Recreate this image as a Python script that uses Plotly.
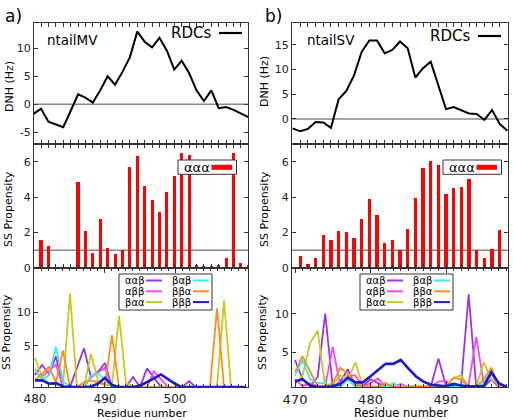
import plotly.graph_objects as go

# ---------------- data : panel a) ntailMV ----------------
res_rdc_a = list(range(480, 510))
rdc_a = [-1.7, -0.8, -3.1, -3.6, -4.1, -1.2, 1.8, 1.2, 0.3, 2.5, 5.0, 3.5, 5.8, 8.4, 13.0,
         11.2, 10.2, 11.9, 9.6, 6.2, 7.8, 5.6, 2.5, 0.6, 2.5, -0.7, -0.5, -1.0, -1.6, -2.3]
res_ss_a = list(range(481, 510))
aaa_a = [1.57, 1.27, 0, 0, 0, 4.83, 2.08, 0.83, 2.77, 1.14, 0.78, 1.0, 5.68, 6.3, 4.64,
         3.84, 3.14, 4.3, 5.2, 6.5, 6.4, 0.19, 0.12, 0.12, 0.17, 0.55, 6.5, 0.27, 0.18]
res_tri_a = list(range(480, 511))
aab_a = [0.6, 2.1, 0.8, 3.4, -1.2, -1.2, 1.7, 4.6, 0.3, 1.1, 2.4, -1.2, -1.2, -1.2, 0.3, -1.2,
         1.6, 0.2, -1.2, -1.2, -1.2, -1.2, -0.3, -1.2, -1.2, -1.2, -1.2, -1.2, -1.2, -1.2, -1.2]
abb_a = [1.0, 0.4, 1.2, 2.2, -1.2, -1.2, -1.2, -1.2, 0.3, 1.0, 1.7, -1.2, -1.2, -1.2, -1.2, -1.2,
         -1.2, 1.2, 0.0, -1.2, -1.2, -1.2, -1.2, -1.2, -1.2, -1.2, -1.2, -1.2, -1.2, -1.2, -1.2]
baa_a = [3.2, 0.3, -0.6, -0.8, -1.0, 12.8, -1.2, -1.2, 3.8, -0.2, -0.8, -1.0, 9.5, -0.6, -1.0, -1.2,
         -1.2, -1.2, -1.2, -1.2, -1.2, -1.2, -1.2, -1.2, -1.2, -1.2, -1.2, 11.8, -1.2, -1.2, -1.2]
bab_a = [1.5, 0.0, 0.5, 4.8, -0.3, -1.2, -1.2, -1.2, 0.5, 0.8, 0.0, -1.2, -1.2, -1.2, -1.2, -1.2,
         -1.2, -1.2, -1.2, -1.2, -1.2, -1.2, -1.2, -1.2, -1.2, -1.2, -1.2, -1.2, -1.2, -1.2, -1.2]
bba_a = [-0.2, 0.8, 1.8, -0.5, 4.3, -1.2, -1.2, -0.5, -0.2, -0.5, -0.9, 6.6, -1.2, -1.2, -1.2, -1.2,
         -1.2, -1.2, -1.2, -1.2, -1.2, -1.2, -1.2, -1.2, -1.2, -1.2, 10.6, -1.2, -1.2, -1.2, -1.2]
bbb_a = [-0.2, -0.2, -0.7, -0.6, -1.1, -1.2, -1.2, -1.2, -1.1, -0.7, 0.2, -0.9, -1.2, -1.2, -1.2, -1.0,
         -0.5, 0.1, 0.7, 0.0, -0.7, -1.2, -1.2, -1.2, -1.2, -1.2, -1.2, -1.2, -1.2, -1.2, -1.2]

# ---------------- data : panel b) ntailSV ----------------
res_rdc_b = list(range(470, 499))
rdc_b = [-1.9, -2.5, -2.0, -0.6, -0.7, -1.8, 4.0, 5.7, 8.8, 13.6, 15.9, 15.9, 13.3, 14.0, 15.7,
         14.3, 8.4, 10.3, 11.6, 6.6, 2.0, 2.4, 1.8, 1.1, 1.0, -0.2, 1.8, -1.0, -2.4]
res_ss_b = list(range(471, 498))
aaa_b = [0.66, 0.2, 0.57, 1.85, 1.6, 2.1, 2.05, 1.7, 2.77, 3.9, 3.0, 1.43, 1.6, 1.0, 2.23,
         3.96, 5.62, 6.06, 5.81, 4.19, 4.53, 4.58, 5.04, 1.0, 0.57, 1.08, 2.17]
res_tri_b = list(range(470, 499))
aab_b = [4.0, 1.5, 0.6, 1.8, 10.0, 0.5, 1.2, 2.8, 0.6, 0.6, 1.5, 1.0, 0.5, 0.5, 0.5,
         0.5, 0.5, 0.5, 0.6, 4.2, 0.6, 0.5, 0.8, 12.5, 0.6, 0.5, 1.5, 0.5, 0.47]
abb_b = [1.5, 0.6, 1.0, 0.6, 0.6, 5.7, 0.6, 2.0, 2.0, 0.5, 1.0, 1.6, 0.5, 0.5, 0.9,
         0.5, 0.5, 0.5, 0.5, 1.2, 1.3, 0.5, 0.5, 0.8, 7.0, 1.0, 2.3, 0.5, 0.47]
baa_b = [0.8, 2.0, 6.2, 7.8, 0.5, 0.8, 2.0, 1.5, 3.7, 0.5, 0.5, 0.5, 0.5, 0.5, 0.5,
         0.6, 0.7, 0.6, 0.5, 0.5, 0.6, 1.7, 2.0, 0.5, 0.5, 3.7, 1.5, 0.8, 0.47]
bab_b = [2.0, 4.0, 1.5, 1.0, 1.0, 0.5, 0.5, 1.5, 0.5, 0.5, 0.5, 0.5, 0.5, 1.0, 0.5,
         0.5, 0.5, 0.5, 0.5, 0.5, 0.5, 0.47, 0.5, 0.5, 0.5, 1.0, 2.6, 0.5, 0.47]
bba_b = [2.5, 4.5, 2.5, 0.6, 0.6, 1.0, 3.0, 2.2, 1.0, 0.5, 0.6, 0.5, 1.0, 0.5, 0.5,
         0.5, 0.5, 0.5, 0.5, 0.5, 0.5, 1.7, 1.5, 0.5, 0.5, 1.5, 3.0, 0.6, 0.47]
bbb_b = [1.2, 1.5, 0.7, 0.5, 0.5, 0.6, 0.9, 1.7, 1.1, 1.1, 1.9, 2.7, 3.5, 3.5, 4.0,
         2.9, 1.9, 1.2, 0.8, 0.7, 0.6, 0.9, 0.7, 0.6, 0.6, 0.6, 2.4, 1.0, 0.5]

# ---------------- labels / ticks ----------------
panel_labels = ["a)", "b)"]
protein_labels = ["ntailMV", "ntailSV"]
rdc_name = "RDCs"
aaa_name = "ααα"
tri_names = ["ααβ", "αββ", "βαα", "βαβ", "ββα", "βββ"]
tri_colors = ["#9933ee", "#ff44ee", "#c8c81e", "#33eeee", "#ff8c1a", "#1a1acc"]
tri_widths = [1.8, 1.8, 1.8, 1.8, 1.8, 2.6]
ticks_rdc_a = [-5, 0, 5, 10]
ticks_rdc_b = [0, 5, 10, 15]
ticks_ss_mid = [0, 2, 4, 6]
ticks_ss_bot = [5, 10]
ticks_res_a = [480, 490, 500]
ticks_res_b = [470, 480, 490]
rdc_ref = 0
ss_ref = 1

# ---------------- geometry ----------------
W, H = 513, 420
FONT = "DejaVu Sans"
AX = "#333333"


def px(x):
    return x / W


def py(y):
    return 1 - y / H


def label(text, x, y, size, xanchor="center", angle=0):
    return dict(text=text, x=px(x), y=py(y), xref="paper", yref="paper", xanchor=xanchor,
                yanchor="middle", textangle=angle, showarrow=False,
                font=dict(family=FONT, size=size, color="black"))


def tickset(vals):
    return dict(tickmode="array", tickvals=vals, ticktext=[str(v) for v in vals], showticklabels=True)


cols = [(34, 248.3), (292, 508.3)]
rows = [(22.7, 144), (144, 268), (268, 387.3)]

fig = go.Figure()

tri_a = [aab_a, abb_a, baa_a, bab_a, bba_a, bbb_a]
tri_b = [aab_b, abb_b, baa_b, bab_b, bba_b, bbb_b]

panels = [
    dict(res_rdc=res_rdc_a, rdc=rdc_a, res_ss=res_ss_a, aaa=aaa_a, res_tri=res_tri_a, tri=tri_a,
         xr_top=[480.05, 509.0], xr_bot=[479.86, 510.47], yr_top=[-7.1, 14.6], yr_bot=[-1.23, 16.63],
         ticks_rdc=ticks_rdc_a, ticks_res=ticks_res_a, xfont=12),
    dict(res_rdc=res_rdc_b, rdc=rdc_b, res_ss=res_ss_b, aaa=aaa_b, res_tri=res_tri_b, tri=tri_b,
         xr_top=[469.92, 498.12], xr_bot=[469.6, 498.25], yr_top=[-5.07, 19.5], yr_bot=[0.46, 15.92],
         ticks_rdc=ticks_rdc_b, ticks_res=ticks_res_b, xfont=13),
]

layout = dict(width=W, height=H, margin=dict(l=0, r=0, t=0, b=0), paper_bgcolor="white",
              plot_bgcolor="white", showlegend=False, font=dict(family=FONT, color="black"))
shapes = []
annotations = []

base_ax = dict(showline=True, linecolor=AX, linewidth=1.2, mirror="ticks", ticks="inside",
               tickcolor=AX, ticklen=4, showgrid=False, zeroline=False, automargin=False,
               tickfont=dict(family=FONT, size=11, color="#222222"))

for p, pan in enumerate(panels):
    x0, x1 = cols[p]
    n = 3 * p
    xa = [f"x{n + k + 1}" if n + k > 0 else "x" for k in range(3)]
    ya = [f"y{n + k + 1}" if n + k > 0 else "y" for k in range(3)]
    xk = ["xaxis" + (str(n + k + 1) if n + k > 0 else "") for k in range(3)]
    yk = ["yaxis" + (str(n + k + 1) if n + k > 0 else "") for k in range(3)]

    # top: RDC line
    fig.add_trace(go.Scatter(x=pan["res_rdc"], y=pan["rdc"], mode="lines", name=rdc_name,
                             line=dict(color="black", width=2), xaxis=xa[0], yaxis=ya[0]))
    # middle: aaa bars
    fig.add_trace(go.Bar(x=pan["res_ss"], y=pan["aaa"], name=aaa_name, width=0.42,
                         marker=dict(color="#ff0000", line=dict(width=0)), xaxis=xa[1], yaxis=ya[1]))
    # bottom: triplet propensities
    for name, col, lw, ys in zip(tri_names, tri_colors, tri_widths, pan["tri"]):
        fig.add_trace(go.Scatter(x=pan["res_tri"], y=ys, mode="lines", name=name,
                                 line=dict(color=col, width=lw), xaxis=xa[2], yaxis=ya[2]))

    dom_x = [px(x0), px(x1)]
    every = list(range(int(pan["xr_top"][0]) - 1, int(pan["xr_top"][1]) + 2))
    for k in range(2):
        layout[xk[k]] = dict(base_ax, domain=dom_x, range=pan["xr_top"], anchor=ya[k],
                             tickmode="array", tickvals=every, showticklabels=False)
    layout[yk[0]] = dict(base_ax, domain=[py(rows[0][1]), py(rows[0][0])], range=pan["yr_top"],
                         anchor=xa[0], **tickset(pan["ticks_rdc"]))
    layout[yk[1]] = dict(base_ax, domain=[py(rows[1][1]), py(rows[1][0])], range=[0, 7],
                         anchor=xa[1], **tickset(ticks_ss_mid))
    xb = dict(base_ax, domain=dom_x, range=pan["xr_bot"], anchor=ya[2], ticklen=5,
              **tickset(pan["ticks_res"]))
    xb["tickfont"] = dict(family=FONT, size=pan["xfont"], color="#222222")
    xb["minor"] = dict(dtick=1, tick0=pan["ticks_res"][0], ticks="inside", ticklen=3, tickcolor=AX)
    layout[xk[2]] = xb
    layout[yk[2]] = dict(base_ax, domain=[py(rows[2][1]), py(rows[2][0])], range=pan["yr_bot"],
                         anchor=xa[2], **tickset(ticks_ss_bot))

    # reference lines
    shapes.append(dict(type="line", xref=f"{xa[0]} domain", x0=0, x1=1, yref=ya[0], y0=rdc_ref, y1=rdc_ref,
                       line=dict(color="#888888", width=1.4), layer="below"))
    shapes.append(dict(type="line", xref=f"{xa[1]} domain", x0=0, x1=1, yref=ya[1], y0=ss_ref, y1=ss_ref,
                       line=dict(color="#888888", width=1.4), layer="below"))

    off = 0 if p == 0 else 260
    annotations.append(label(panel_labels[p], 3 + off, 16, 17, "left"))
    annotations.append(label(protein_labels[p], 45 + off, 40, 13.5, "left"))
    yt_x = 9 if p == 0 else 265
    annotations.append(label("DNH (Hz)", yt_x, 87 if p == 0 else 82, 11, angle=-90))
    annotations.append(label("SS Propensity", yt_x - 1, 209, 11, angle=-90))
    annotations.append(label("SS Propensity", yt_x - 3, 332, 11, angle=-90))
    annotations.append(label("Residue number", (x0 + x1) / 2 + 1, 413, 11 if p == 0 else 11.5))

    # RDC legend: text then sample
    rx = 213 if p == 0 else 472
    ry = 33 if p == 0 else 36
    annotations.append(label(rdc_name, rx, ry, 15, "right"))
    shapes.append(dict(type="line", xref="paper", yref="paper", x0=px(rx + 6), x1=px(rx + 29),
                       y0=py(ry), y1=py(ry), line=dict(color="black", width=2.2)))

    # aaa legend box
    bx0 = 178 if p == 0 else 443
    shapes.append(dict(type="rect", xref="paper", yref="paper", x0=px(bx0), x1=px(bx0 + 58.5),
                       y0=py(160), y1=py(174.3), line=dict(color=AX, width=1), fillcolor="white"))
    annotations.append(label(aaa_name, bx0 + 3.5, 167.5, 13, "left"))
    shapes.append(dict(type="line", xref="paper", yref="paper", x0=px(bx0 + 33.5), x1=px(bx0 + 54),
                       y0=py(167.3), y1=py(167.3), line=dict(color="#ff0000", width=5)))

    # triplet legend box (two columns)
    lx0 = 119 if p == 0 else 360
    shapes.append(dict(type="rect", xref="paper", yref="paper", x0=px(lx0), x1=px(lx0 + 93),
                       y0=py(274), y1=py(310), line=dict(color=AX, width=1), fillcolor="white"))
    for i, (name, col) in enumerate(zip(tri_names, tri_colors)):
        c, r = divmod(i, 3)
        ty = 280.5 + 10.8 * r
        tx = lx0 + 4 + 47 * c
        annotations.append(label(name, tx, ty, 10, "left"))
        shapes.append(dict(type="line", xref="paper", yref="paper", x0=px(tx + 23), x1=px(tx + 39),
                           y0=py(ty), y1=py(ty), line=dict(color=col, width=2)))

layout["shapes"] = shapes
layout["annotations"] = annotations
layout["bargap"] = 0
fig.update_layout(**layout)
fig.write_html("out.html")
